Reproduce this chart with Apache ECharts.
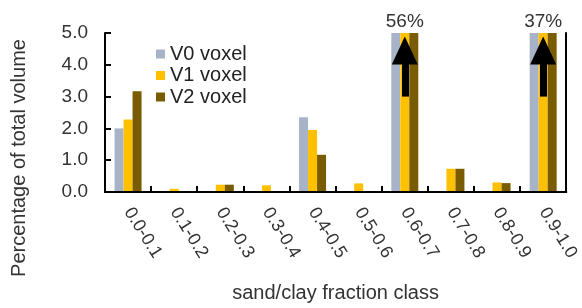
<!DOCTYPE html>
<html>
<head>
<meta charset="utf-8">
<script src="https://cdn.jsdelivr.net/npm/echarts@6/dist/echarts.min.js"></script>
<style>
html,body{margin:0;padding:0;background:#fff;}
#c{width:582px;height:308px;}
</style>
</head>
<body>
<div id="c"></div>
<script>
const categories = ['0.0-0.1','0.1-0.2','0.2-0.3','0.3-0.4','0.4-0.5','0.5-0.6','0.6-0.7','0.7-0.8','0.8-0.9','0.9-1.0'];
const seriesNames = ['V0 voxel','V1 voxel','V2 voxel'];
const v0 = [2.0, 0, 0.02, 0, 2.35, 0, 56, 0, 0, 37];
const v1 = [2.28, 0.1, 0.23, 0.21, 1.95, 0.27, 56, 0.73, 0.3, 37];
const v2 = [3.17, 0.03, 0.23, 0, 1.17, 0.03, 56, 0.73, 0.28, 37];
const yMin = 0, yMax = 5, yInterval = 1;
const annotCats = ['0.6-0.7', '0.9-1.0'];
const annotTexts = ['56%', '37%'];
const arrowFrom = 3.0, arrowTo = 4.45;
const yAxisTitle = 'Percentage of total volume';
const xAxisTitle = 'sand/clay fraction class';

const colors = ['#A8B3C7', '#FFC000', '#7A5C00'];
const font = 'Liberation Sans, Arial, sans-serif';
const txt = '#333333';

const chart = echarts.init(document.getElementById('c'), null, {renderer: 'canvas'});

const seriesData = [v0, v1, v2];
const series = seriesData.map((d, i) => {
  const s = {
    name: seriesNames[i],
    type: 'bar',
    data: d,
    barWidth: 9,
    barGap: '0%',
    itemStyle: {color: colors[i]},
    clip: true,
    silent: true,
    z: 2
  };
  if (i === 1) {
    s.markLine = {
      silent: true,
      symbol: ['none', 'triangle'],
      symbolSize: [26, 28],
      label: {show: false},
      lineStyle: {color: '#000', width: 7, type: 'solid'},
      emphasis: {disabled: true},
      animation: false,
      data: annotCats.map(c => [{coord: [c, arrowFrom]}, {coord: [c, arrowTo]}])
    };
    s.markPoint = {
      silent: true,
      symbol: 'rect',
      symbolSize: 0,
      animation: false,
      label: {show: true, position: 'top', distance: 2, fontFamily: font, fontSize: 19, color: txt,
        formatter: p => p.name},
      data: annotCats.map((c, k) => ({name: annotTexts[k], coord: [c, yMax]}))
    };
  }
  return s;
});

chart.setOption({
  animation: false,
  backgroundColor: '#fff',
  grid: {left: 105, right: 14, top: 33, bottom: 111, containLabel: false},
  legend: {
    orient: 'vertical',
    left: 151, top: 39,
    itemWidth: 9, itemHeight: 9, itemGap: 1.5,
    icon: 'rect',
    textStyle: {fontFamily: font, fontSize: 20, color: '#222'},
    data: seriesNames
  },
  xAxis: [{
    type: 'category',
    data: categories,
    position: 'bottom',
    z: 10,
    axisLine: {show: true, lineStyle: {color: '#000', width: 2}},
    axisTick: {show: true, inside: true, length: 6, lineStyle: {color: '#000', width: 2}},
    axisLabel: {rotate: -58, margin: 17, fontFamily: font, fontSize: 18, color: txt, interval: 0},
    name: xAxisTitle,
    nameLocation: 'middle',
    nameGap: 91,
    nameTextStyle: {fontFamily: font, fontSize: 20, color: txt}
  }, {
    type: 'category',
    data: categories,
    position: 'top',
    z: 10,
    axisLine: {show: true, lineStyle: {color: '#000', width: 2}},
    axisTick: {show: false},
    axisLabel: {show: false}
  }],
  yAxis: [{
    type: 'value',
    min: yMin, max: yMax, interval: yInterval,
    z: 10,
    axisLine: {show: true, lineStyle: {color: '#000', width: 2}},
    axisTick: {show: true, inside: true, length: 6, lineStyle: {color: '#000', width: 2}},
    splitLine: {show: false},
    axisLabel: {margin: 17, fontFamily: font, fontSize: 19, color: txt, formatter: v => v.toFixed(1)}
  }, {
    type: 'value',
    min: yMin, max: yMax, interval: yInterval,
    position: 'right',
    z: 10,
    axisLine: {show: true, lineStyle: {color: '#000', width: 2}},
    axisTick: {show: false},
    splitLine: {show: false},
    axisLabel: {show: false}
  }],
  graphic: [{
    type: 'text',
    x: 19.5, y: 158,
    rotation: Math.PI / 2,
    style: {text: yAxisTitle, fontFamily: font, fontSize: 20, fill: txt, align: 'center', verticalAlign: 'middle'}
  }],
  series: series
});
</script>
</body>
</html>
